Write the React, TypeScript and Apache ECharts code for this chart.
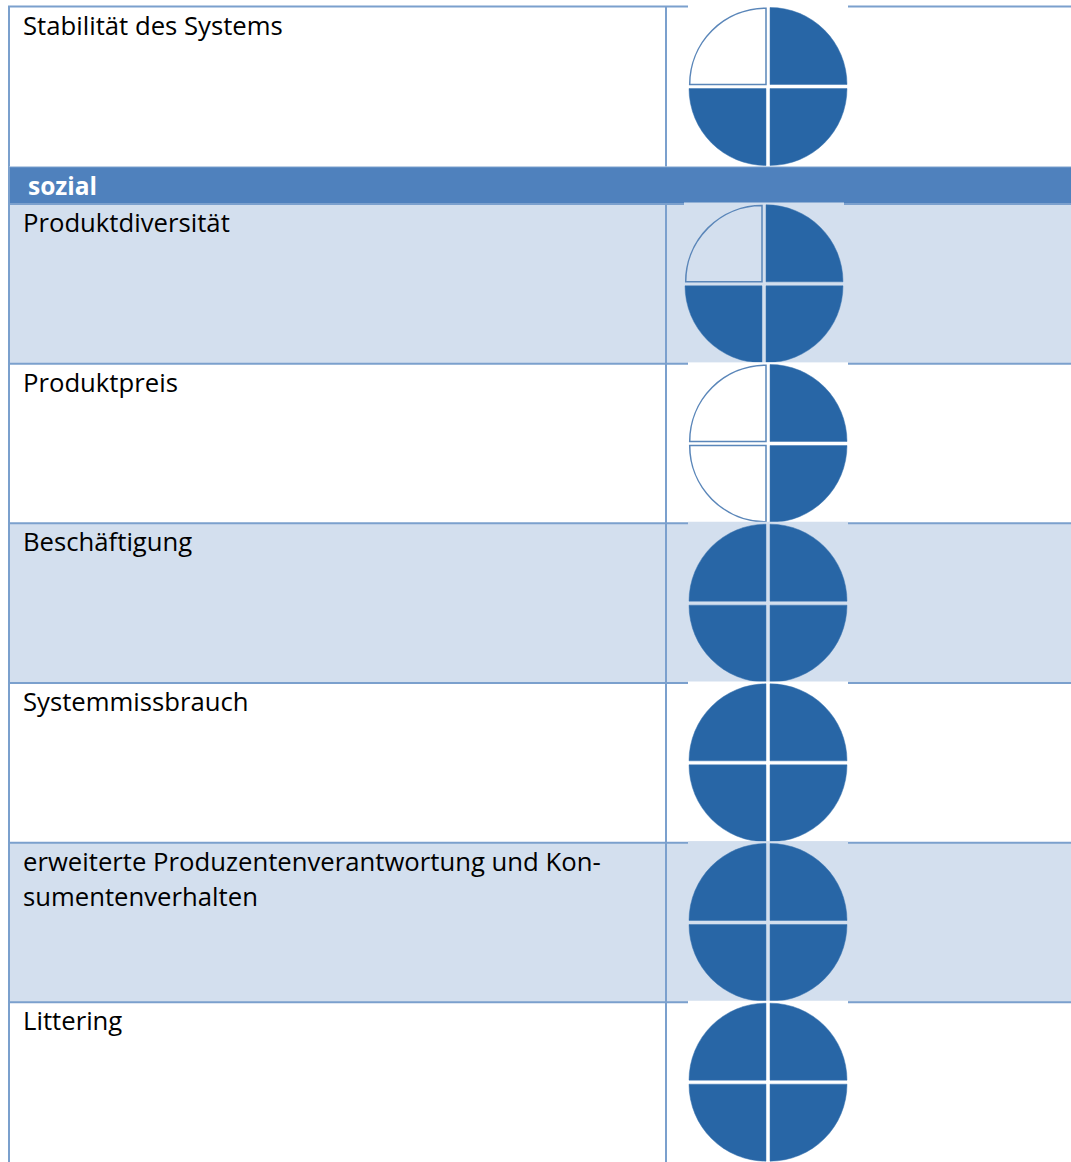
import React, { useEffect, useRef } from "react";
import * as echarts from "echarts";

// ---- data ----
const topCriteria = ["Stabilität des Systems"];
const topRatings = [3]; // filled quarters out of 4
const sectionTitle = "sozial";
const socialCriteria = [
  "Produktdiversität",
  "Produktpreis",
  "Beschäftigung",
  "Systemmissbrauch",
  "erweiterte Produzentenverantwortung und Kon-\nsumentenverhalten",
  "Littering",
];
const socialRatings = [3, 2, 4, 4, 4, 4];

// ---- layout / style ----
const W = 1071;
const H = 1162;
const LEFT = 9;
const DIVIDER = 666;
const LW = 2;
const BORDER = "#7ba0cd";
const BAND = "#4f81bd";
const LIGHT = "#d3dfee";
const FILL = "#2866a6";
const OUTLINE = "#5a86b9";
const FONT = '"Open Sans", "Noto Sans", sans-serif';
const topShading = [false];
const socialShading = [true, false, true, false, true, false];
const socialBallShift = [-4, 0, 0, 0, 0, 0];
const topBallShift = [0];
const BALL_X = 768;

const QUARTERS = [
  { a0: -Math.PI / 2, a1: 0, dx: 2, dy: -2 }, // top right
  { a0: 0, a1: Math.PI / 2, dx: 2, dy: 2 }, // bottom right
  { a0: Math.PI / 2, a1: Math.PI, dx: -2, dy: 2 }, // bottom left
  { a0: Math.PI, a1: (3 * Math.PI) / 2, dx: -2, dy: -2 }, // top left
];

function makeRenderItem(labels: string[], shading: boolean[], shifts: number[]) {
  return (params: any, api: any) => {
    const idx = api.value(0) as number;
    const rating = api.value(1) as number;
    const yc = api.coord([0, idx])[1];
    const band = api.size([0, 1])[1];
    const top = yc - band / 2;
    const bg = shading[idx] ? LIGHT : "#ffffff";
    const cx = BALL_X + shifts[idx];
    const cy = yc;
    const children: any[] = [
      { type: "rect", shape: { x: LEFT, y: top, width: W - LEFT, height: band }, style: { fill: bg } },
      { type: "line", shape: { x1: LEFT - 1, y1: top, x2: W, y2: top }, style: { stroke: BORDER, lineWidth: LW } },
      { type: "line", shape: { x1: LEFT, y1: top, x2: LEFT, y2: top + band }, style: { stroke: BORDER, lineWidth: LW } },
      { type: "line", shape: { x1: DIVIDER, y1: top, x2: DIVIDER, y2: top + band }, style: { stroke: BORDER, lineWidth: LW } },
      {
        type: "text",
        style: {
          text: labels[idx],
          x: 23,
          y: top + 1,
          font: `25.7px ${FONT}`,
          fill: "#000000",
          verticalAlign: "top",
          lineHeight: 35,
        },
      },
      { type: "rect", shape: { x: cx - 80, y: top - 1.5, width: 160, height: 160 }, style: { fill: bg } },
    ];
    QUARTERS.forEach((q, k) => {
      const filled = k < rating;
      children.push({
        type: "sector",
        shape: {
          cx: cx + q.dx,
          cy: cy + q.dy,
          r: filled ? 77 : 76.3,
          r0: 0,
          startAngle: q.a0,
          endAngle: q.a1,
          clockwise: true,
        },
        style: filled
          ? { fill: FILL, stroke: "#3a74b0", lineWidth: 0.5 }
          : { fill: bg, stroke: OUTLINE, lineWidth: 1.5 },
      });
    });
    return { type: "group", children };
  };
}

export default function App() {
  const ref = useRef<HTMLDivElement>(null);
  useEffect(() => {
    document.body.style.margin = "0";
    if (!ref.current) return;
    const chart = echarts.init(ref.current, undefined, { renderer: "svg" });
    chart.setOption({
      animation: false,
      backgroundColor: "#ffffff",
      grid: [
        { left: 0, right: 0, top: 6.5, height: 160 },
        { left: 0, right: 0, top: 204, height: 960 },
      ],
      xAxis: [
        { type: "value", min: 0, max: W, show: false, gridIndex: 0 },
        { type: "value", min: 0, max: W, show: false, gridIndex: 1 },
      ],
      yAxis: [
        { type: "category", data: topCriteria, inverse: true, show: false, gridIndex: 0 },
        { type: "category", data: socialCriteria, inverse: true, show: false, gridIndex: 1 },
      ],
      graphic: [
        { type: "rect", shape: { x: LEFT, y: 166, width: W - LEFT, height: 38 }, style: { fill: BAND } },
        { type: "line", shape: { x1: LEFT - 1, y1: 166.5, x2: W, y2: 166.5 }, style: { stroke: BORDER, lineWidth: LW } },
        { type: "line", shape: { x1: LEFT, y1: 166, x2: LEFT, y2: 204 }, style: { stroke: BORDER, lineWidth: LW } },
        {
          type: "text",
          style: {
            text: sectionTitle,
            x: 28,
            y: 185.5,
            font: `bold 24.5px ${FONT}`,
            fill: "#ffffff",
            verticalAlign: "middle",
          },
        },
      ],
      series: [
        {
          type: "custom",
          xAxisIndex: 0,
          yAxisIndex: 0,
          data: topRatings.map((r, i) => [i, r]),
          renderItem: makeRenderItem(topCriteria, topShading, topBallShift),
          clip: false,
        },
        {
          type: "custom",
          xAxisIndex: 1,
          yAxisIndex: 1,
          data: socialRatings.map((r, i) => [i, r]),
          renderItem: makeRenderItem(socialCriteria, socialShading, socialBallShift),
          clip: false,
        },
      ],
    });
    return () => chart.dispose();
  }, []);
  return <div ref={ref} style={{ width: W, height: H }} />;
}
